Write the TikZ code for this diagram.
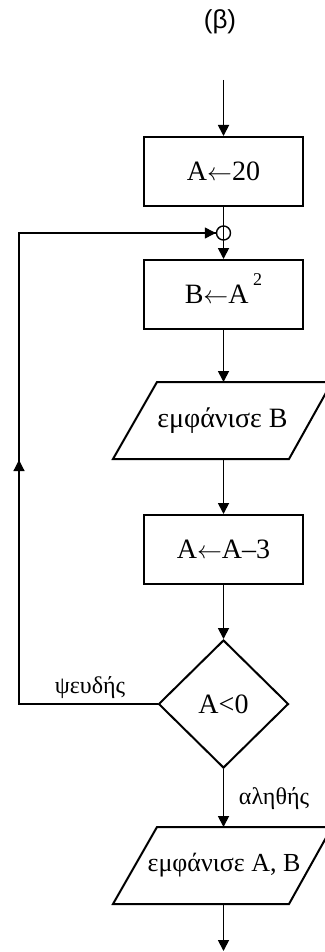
\documentclass[tikz,border=0pt]{standalone}
\usepackage{fontspec}
\setmainfont{Liberation Serif}
\newfontfamily\titlefont{Liberation Sans}
\usetikzlibrary{arrows.meta,shapes.geometric}
\newcommand{\la}{\ensuremath{\leftarrow}}
\begin{document}
\begin{tikzpicture}[x=1pt,y=-1pt,
  box/.style={draw,line width=2pt,minimum width=159pt,minimum height=69pt,inner sep=0pt,font=\fontsize{28}{32}\selectfont},
  txt/.style={font=\fontsize{28}{32}\selectfont,inner sep=0pt},
  dec/.style={draw,diamond,line width=2pt,minimum width=130pt,minimum height=128pt,inner sep=0pt,font=\fontsize{28}{32}\selectfont},
  lbl/.style={font=\fontsize{24}{28}\selectfont,inner sep=0pt},
  tip/.style={-{Triangle[length=11pt,width=11pt]}},
  flow/.style={line width=1.8pt,tip},
  loopline/.style={line width=1.2pt},
  para/.style={line width=2pt}]
\useasboundingbox (0,0) rectangle (324,952);
\node[font=\titlefont\fontsize{26}{30}\selectfont,inner sep=0pt] (title) at (220,22) {(β)};
\coordinate (start) at (223.5,80);
\node[box] (b1) at (223.5,171.5) {A\la20};
\node[box] (b2) at (223.5,294.5) {B\la A\,\smash{\raisebox{18pt}{\fontsize{18}{18}\selectfont 2}}};
% parallelogram 1
\draw[para] (157,382) -- (332,382) -- (289,459) -- (113,459) -- cycle;
\node[txt] (p1) at (222.5,420.5) {εμφάνισε B};
\coordinate (p1n) at (223.5,382);
\coordinate (p1s) at (223.5,459);
\node[box] (b3) at (223.5,549.5) {A\la A–3};
\node[dec] (d) at (223.5,704) {A<0};
% parallelogram 2
\draw[para] (157,827) -- (332,827) -- (289,904) -- (113,904) -- cycle;
\node[txt,font=\fontsize{26}{30}\selectfont] (p2) at (224,865.5) {εμφάνισε A, B};
\coordinate (p2n) at (223.5,827);
\coordinate (p2s) at (223.5,904);
\coordinate (finish) at (223.5,951);
% connectors
\draw[flow] (start) -- (b1.north);
\draw[flow] (b1.south) -- (b2.north);
\node[draw,circle,line width=1.4pt,minimum size=14pt,inner sep=0pt] (c) at (223.5,233) {};
\draw[flow] (b2.south) -- (p1n);
\draw[flow] (p1s) -- (b3.north);
\draw[flow] (b3.south) -- (d.north);
\draw[flow] (d.south) -- (p2n);
\draw[flow] (p2s) -- (finish);
% loop back
\coordinate (lb) at (19,704);
\coordinate (lm) at (19,460);
\coordinate (lt) at (19,233);
\draw[loopline] (d.west) -- (lb) -- (lt) -- (c.west);
\draw[loopline,tip] (lb) -- (lm);
\draw[loopline,tip] (lt) -- (c.west);
\node[lbl] (f) at (90,688) {ψευδής};
\node[lbl] (t) at (274,799) {αληθής};
\end{tikzpicture}
\end{document}
